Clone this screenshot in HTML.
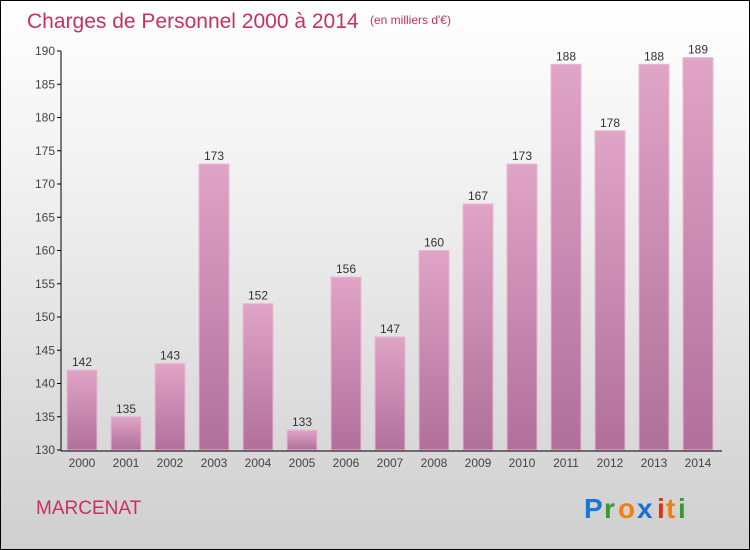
<!DOCTYPE html>
<html><head><meta charset="utf-8"><style>
body{margin:0}
#c{width:748px;height:548px;border:1px solid #000;background:linear-gradient(#fff,#f2f2f2 30%,#cfcfcf);position:relative;overflow:hidden;font-family:"Liberation Sans",sans-serif}
</style></head><body>
<div id="c">
<svg width="748" height="548" id="svg">
<defs><linearGradient id="bg" x1="0" y1="0" x2="0" y2="1"><stop offset="0" stop-color="#e0a4c6"/><stop offset="1" stop-color="#b0709a"/></linearGradient></defs>
<text x="26" y="27" font-size="21" fill="#c8305f">Charges de Personnel 2000 à 2014</text>
<text x="369" y="23" font-size="12" fill="#c8305f">(en milliers d'€)</text>
<text x="35" y="513" font-size="19" fill="#c8305f">MARCENAT</text>
<g font-size="28" font-weight="bold">
<text x="583" y="517" fill="#1a78d0">P</text><text x="603" y="517" fill="#3a9a30">r</text><text x="617" y="517" fill="#f08010">o</text><text x="636" y="517" fill="#1a70d0">x</text><text x="656" y="517" fill="#e03010">i</text><text x="665" y="517" fill="#f08010">t</text><text x="677" y="517" fill="#3a9a30">i</text>
</g>
<g id="plot"></g>
</svg></div>
<script>
const categories=["2000","2001","2002","2003","2004","2005","2006","2007","2008","2009","2010","2011","2012","2013","2014"];
const values=[142,135,143,173,152,133,156,147,160,167,173,188,178,188,189];
const yTicks=[130,135,140,145,150,155,160,165,170,175,180,185,190];
const ns="http://www.w3.org/2000/svg";
const g=document.getElementById('plot');
const y=v=>449-(v-130)*(399/60);
const x=i=>81+i*44;
function mk(t,a){const e=document.createElementNS(ns,t);for(const k in a)e.setAttribute(k,a[k]);g.appendChild(e);return e;}
yTicks.forEach(t=>{
 const l=mk('line',{x1:56,x2:60,y1:y(t),y2:y(t),stroke:'#000'});
 
 
 const tx=mk('text',{x:54,y:y(t)+4,'font-size':12,fill:'#444','text-anchor':'end'});tx.textContent=t;
 
 
});
values.forEach((v,i)=>{
 const r=mk('rect',{x:x(i)-15,y:y(v),width:30,height:449-y(v),fill:'url(#bg)',stroke:'#e8b8d4','stroke-width':1});
 
 
 const t=mk('text',{x:x(i),y:y(v)-4,'font-size':12,fill:'#333','text-anchor':'middle'});t.textContent=v;
 
 
 const c=mk('text',{x:x(i),y:466,'font-size':12,fill:'#444','text-anchor':'middle'});c.textContent=categories[i];
 
 
});
const ya=mk('line',{x1:60,x2:60,y1:50,y2:450,stroke:'#000'});


const xa=mk('line',{x1:60,x2:721,y1:450,y2:450,stroke:'#000'});


</script>
</body></html>
